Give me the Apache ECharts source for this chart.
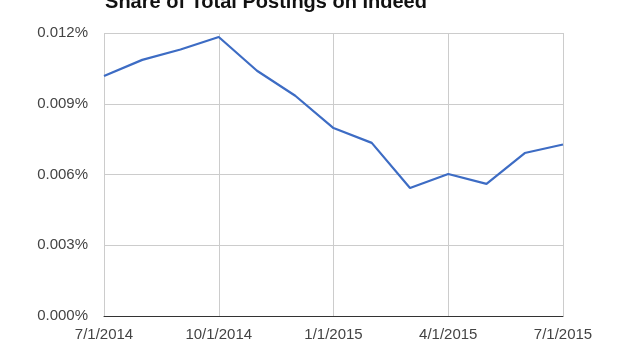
<!DOCTYPE html>
<html>
<head>
<meta charset="utf-8">
<script src="https://cdn.jsdelivr.net/npm/echarts@6/dist/echarts.min.js"></script>
<style>
html,body{margin:0;padding:0;background:#fff;}
#c{width:620px;height:349px;}
</style>
</head>
<body>
<div id="c"></div>
<script>
var titleText = 'Share of Total Postings on Indeed';
var categories = ['7/1/2014','8/1/2014','9/1/2014','10/1/2014','11/1/2014','12/1/2014','1/1/2015','2/1/2015','3/1/2015','4/1/2015','5/1/2015','6/1/2015','7/1/2015'];
var shareValues = [0.01018, 0.01086, 0.01130, 0.01183, 0.01040, 0.00934, 0.00797, 0.00734, 0.00543, 0.00602, 0.00560, 0.00691, 0.00727];
var yTicks = [0, 0.003, 0.006, 0.009, 0.012];

var chart = echarts.init(document.getElementById('c'), null, {renderer:'canvas'});
chart.setOption({
  animation:false,
  backgroundColor:'#fff',
  title:{
    text:titleText,
    left:261, top:-13,
    textAlign:'center',
    textStyle:{fontFamily:'Liberation Sans, Arial, sans-serif', fontSize:20, fontWeight:'bold', color:'#111'}
  },
  grid:{left:104, right:57, top:33, bottom:33, containLabel:false},
  xAxis:{
    type:'category',
    data:categories,
    boundaryGap:false,
    axisLine:{show:true, lineStyle:{color:'#333', width:1}},
    axisTick:{show:false},
    axisLabel:{interval:2, margin:11, color:'#444', fontSize:15, fontFamily:'Liberation Sans, Arial, sans-serif'},
    splitLine:{show:true, interval:2, lineStyle:{color:'#ccc', width:1}}
  },
  yAxis:{
    type:'value',
    min:yTicks[0], max:yTicks[yTicks.length-1], interval:0.003,
    axisLine:{show:false},
    axisTick:{show:false},
    axisLabel:{margin:16, color:'#444', fontSize:15, fontFamily:'Liberation Sans, Arial, sans-serif',
      formatter:function(v){return v.toFixed(3)+'%';}},
    splitLine:{show:true, lineStyle:{color:'#ccc', width:1}}
  },
  series:[{
    type:'line',
    data:shareValues,
    showSymbol:false,
    lineStyle:{color:'#3d6cc4', width:2.2},
    itemStyle:{color:'#3d6cc4'}
  }]
});
</script>
</body>
</html>
